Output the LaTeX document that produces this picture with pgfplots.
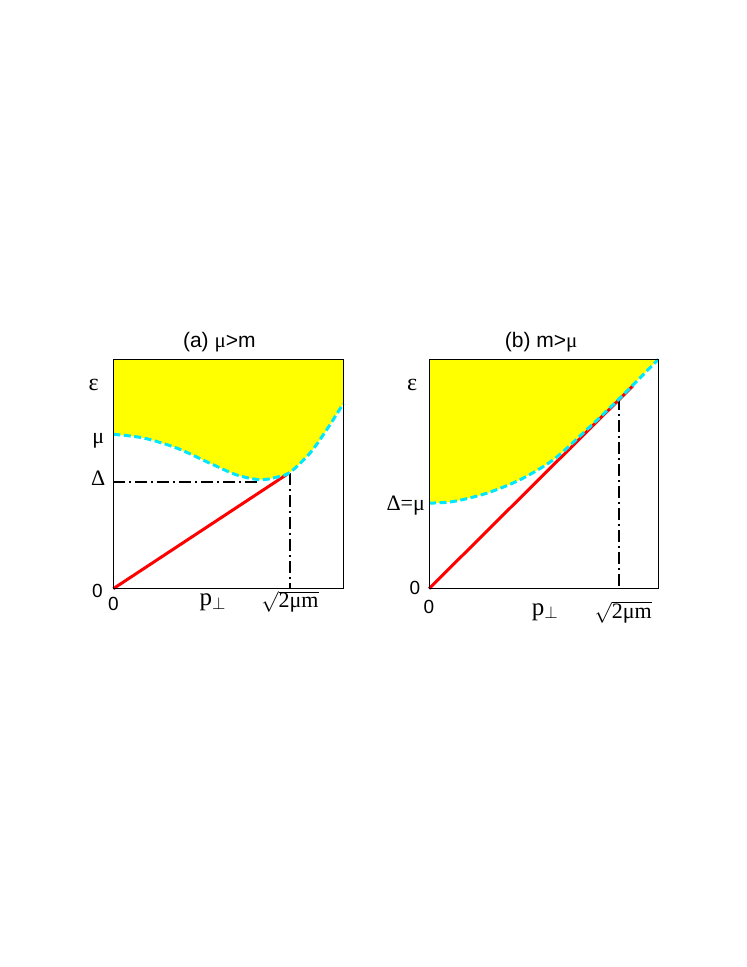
\documentclass[border=0pt]{standalone}
\usepackage{fontspec}
\setmainfont{Liberation Serif}
\setsansfont{Liberation Sans}
\usepackage{pgfplots}
\pgfplotsset{compat=1.18}
\definecolor{cyanL}{RGB}{0,230,255}
\definecolor{redL}{RGB}{255,0,0}
\definecolor{yel}{RGB}{255,255,0}
\newcommand{\lab}{\fontsize{22bp}{26bp}\selectfont}
\newcommand{\plab}{\fontsize{25bp}{28bp}\selectfont}
\newcommand{\eps}{\fontsize{24bp}{28bp}\selectfont}
\newcommand{\zer}{\fontsize{19bp}{22bp}\selectfont\sffamily}
\newcommand{\ttl}{\fontsize{21bp}{25bp}\selectfont\sffamily}
\pgfplotsset{
  panel/.style={
    anchor=south west, scale only axis,
    xmin=0, xmax=1, ymin=0, ymax=1,
    xtick=\empty, ytick=\empty,
    clip=false, axis on top,
    axis line style={line width=0.8bp, black},
  },
  cyanline/.style={cyanL, line width=3bp, dash pattern=on 7bp off 3.5bp, smooth},
  redline/.style={redL, line width=3bp},
  dd/.style={black, line width=2bp, dash pattern=on 12bp off 4bp on 2bp off 4bp},
}
\begin{document}
\begin{tikzpicture}
\path[use as bounding box] (0,0) rectangle (747bp,967bp);
% ---------------- panel (a)
\begin{axis}[panel, at={(113.3bp,378.3bp)}, width=230bp, height=229.4bp]
\addplot[fill=yel, draw=none, smooth] coordinates {
 (0,0.673) (0.131,0.657) (0.276,0.613) (0.420,0.547) (0.536,0.496)
 (0.638,0.475) (0.710,0.486) (0.768,0.507) (0.855,0.591) (0.928,0.693) (1.0,0.807)}
 -- (axis cs:1,1) -- (axis cs:0,1) -- cycle;
\addplot[redline] coordinates {(0,0) (0.765,0.505)};
\addplot[dd] coordinates {(0,0.466) (0.63,0.466)};
\addplot[dd] coordinates {(0.768,0.504) (0.768,0)};
\addplot[cyanline] coordinates {
 (0,0.673) (0.131,0.657) (0.276,0.613) (0.420,0.547) (0.536,0.496)
 (0.638,0.475) (0.710,0.486) (0.768,0.507) (0.855,0.591) (0.928,0.693) (1.0,0.807)};
\node[anchor=center] at (axis cs:0.461,1.073) {\ttl (a) {\rmfamily μ}>m};
\node[anchor=center] at (axis cs:-0.085,0.888) {\eps ε};
\node[anchor=base] at (axis cs:-0.065,0.631) {\lab μ};
\node[anchor=base] at (axis cs:-0.066,0.448) {\lab Δ};
\node[anchor=center] at (axis cs:-0.069,-0.012) {\zer 0};
\node[anchor=center] at (axis cs:0,-0.068) {\zer 0};
\node[anchor=base west, inner sep=0pt] at (axis cs:0.374,-0.075) {\plab p$_\perp$};
\node[anchor=base] at (axis cs:0.768,-0.084) {\lab $\sqrt{\hbox{2μm}}$};
\end{axis}
% ---------------- panel (b)
\begin{axis}[panel, at={(429bp,378.3bp)}, width=229.3bp, height=229.4bp]
\addplot[fill=yel, draw=none, smooth] coordinates {
 (0,0.373) (0.106,0.380) (0.251,0.416) (0.397,0.475) (0.542,0.562)
 (0.688,0.693) (0.833,0.831) (1.0,1.0)}
 -- (axis cs:0,1) -- cycle;
\addplot[redline] coordinates {(0,0) (0.89,0.885)};
\addplot[dd] coordinates {(0.830,0.830) (0.830,0)};
\addplot[cyanline] coordinates {
 (0,0.373) (0.106,0.380) (0.251,0.416) (0.397,0.475) (0.542,0.562)
 (0.688,0.693) (0.833,0.831) (1.0,1.0)};
\node[anchor=center] at (axis cs:0.489,1.073) {\ttl (b) m>{\rmfamily μ}};
\node[anchor=center] at (axis cs:-0.073,0.888) {\eps ε};
\node[anchor=base east, inner sep=0pt] at (axis cs:-0.017,0.343) {\lab Δ=μ};
\node[anchor=center] at (axis cs:-0.061,0.003) {\zer 0};
\node[anchor=center] at (axis cs:0,-0.078) {\zer 0};
\node[anchor=base west, inner sep=0pt] at (axis cs:0.448,-0.115) {\plab p$_\perp$};
\node[anchor=base] at (axis cs:0.847,-0.129) {\lab $\sqrt{\hbox{2μm}}$};
\end{axis}
\end{tikzpicture}
\end{document}
